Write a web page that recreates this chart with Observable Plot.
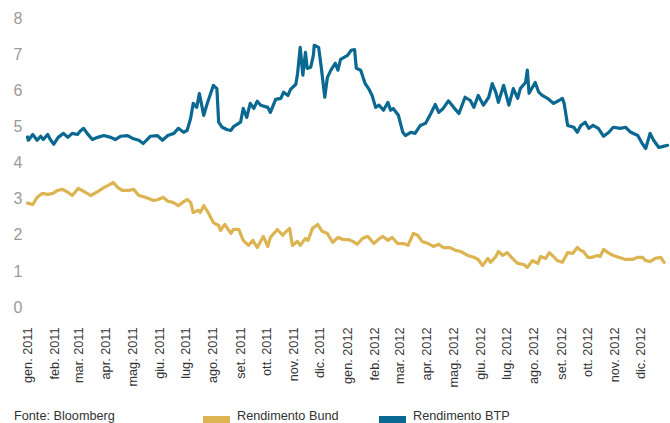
<!DOCTYPE html>
<html>
<head>
<meta charset="utf-8">
<script src="https://cdn.jsdelivr.net/npm/d3@7"></script>
<script src="https://cdn.jsdelivr.net/npm/@observablehq/plot@0.6"></script>
<style>
  html, body { margin: 0; padding: 0; background: #fff; }
  #wrap { position: relative; width: 670px; height: 423px; font-family: "Liberation Sans", Arial, sans-serif; }
  .leg { position: absolute; top: 408px; font-size: 12.7px; color: #333; white-space: nowrap; line-height: 16px; }
  .sw { position: absolute; top: 416px; width: 27px; height: 7px; }
</style>
</head>
<body>
<div id="wrap">
  <div id="chart"></div>
  <div class="leg" style="left:14px">Fonte: Bloomberg</div>
  <div class="sw" id="swBund" style="left:203px"></div>
  <div class="leg" style="left:237px">Rendimento Bund</div>
  <div class="sw" id="swBtp" style="left:379px"></div>
  <div class="leg" style="left:413px">Rendimento BTP</div>
</div>
<script>
const seriesNames = ["Rendimento Bund", "Rendimento BTP"];
const seriesColors = ["#dcb452", "#0b6891"];
const monthNames = ["gen.", "feb.", "mar.", "apr.", "mag.", "giu.", "lug.", "ago.", "set.", "ott.", "nov.", "dic."];
const yTicks = [0, 1, 2, 3, 4, 5, 6, 7, 8];

const btp = [
["2011-01-01",4.72],["2011-01-02",4.63],["2011-01-07",4.79],["2011-01-12",4.63],["2011-01-16",4.74],
["2011-01-19",4.65],["2011-01-24",4.79],["2011-01-27",4.65],["2011-01-31",4.52],["2011-02-05",4.71],
["2011-02-11",4.82],["2011-02-16",4.71],["2011-02-21",4.82],["2011-02-27",4.79],["2011-03-02",4.88],
["2011-03-06",4.96],["2011-03-10",4.82],["2011-03-16",4.65],["2011-03-22",4.71],["2011-03-29",4.76],
["2011-04-06",4.71],["2011-04-11",4.65],["2011-04-17",4.74],["2011-04-25",4.76],["2011-05-01",4.68],
["2011-05-08",4.63],["2011-05-13",4.54],["2011-05-21",4.74],["2011-05-29",4.76],["2011-06-04",4.63],
["2011-06-10",4.76],["2011-06-17",4.82],["2011-06-22",4.96],["2011-06-28",4.85],["2011-07-02",4.90],
["2011-07-06",5.23],["2011-07-09",5.65],["2011-07-13",5.54],["2011-07-16",5.92],["2011-07-21",5.32],
["2011-07-25",5.65],["2011-08-01",6.15],["2011-08-05",6.06],["2011-08-07",5.13],["2011-08-11",4.99],
["2011-08-17",4.92],["2011-08-21",4.90],["2011-08-24",5.01],["2011-09-01",5.13],["2011-09-04",5.51],
["2011-09-08",5.26],["2011-09-12",5.65],["2011-09-16",5.51],["2011-09-20",5.71],["2011-09-24",5.60],
["2011-10-02",5.54],["2011-10-05",5.40],["2011-10-11",5.76],["2011-10-17",5.79],["2011-10-20",5.96],
["2011-10-25",5.87],["2011-10-28",6.04],["2011-11-03",6.18],["2011-11-05",6.48],["2011-11-08",7.20],
["2011-11-11",6.43],["2011-11-14",7.06],["2011-11-16",6.62],["2011-11-20",6.65],["2011-11-23",6.98],
["2011-11-24",7.26],["2011-11-29",7.20],["2011-12-02",6.65],["2011-12-06",5.82],["2011-12-09",6.37],
["2011-12-13",6.57],["2011-12-18",6.76],["2011-12-21",6.57],["2011-12-24",6.87],["2012-01-01",6.98],
["2012-01-05",7.12],["2012-01-09",7.14],["2012-01-11",6.62],["2012-01-16",6.57],["2012-01-21",6.20],
["2012-01-25",6.06],["2012-01-29",5.87],["2012-02-02",5.54],["2012-02-06",5.60],["2012-02-11",5.46],
["2012-02-16",5.68],["2012-02-19",5.46],["2012-02-22",5.51],["2012-02-28",5.32],["2012-03-04",4.85],
["2012-03-07",4.76],["2012-03-13",4.85],["2012-03-18",4.82],["2012-03-24",5.04],["2012-03-30",5.10],
["2012-04-05",5.37],["2012-04-10",5.62],["2012-04-14",5.40],["2012-04-19",5.51],["2012-04-25",5.72],
["2012-05-01",5.54],["2012-05-07",5.37],["2012-05-14",5.82],["2012-05-20",5.73],["2012-05-24",5.54],
["2012-05-29",5.87],["2012-06-04",5.60],["2012-06-10",5.82],["2012-06-14",6.20],["2012-06-18",5.96],
["2012-06-21",5.68],["2012-06-27",6.15],["2012-07-03",5.60],["2012-07-08",6.06],["2012-07-13",5.79],
["2012-07-16",6.06],["2012-07-22",6.23],["2012-07-24",6.57],["2012-07-26",5.93],["2012-08-02",6.23],
["2012-08-06",5.96],["2012-08-10",5.87],["2012-08-16",5.79],["2012-08-23",5.65],["2012-08-29",5.73],
["2012-09-02",5.79],["2012-09-04",5.65],["2012-09-08",5.04],["2012-09-15",4.99],["2012-09-19",4.85],
["2012-09-23",5.04],["2012-09-28",5.13],["2012-10-02",4.96],["2012-10-07",5.04],["2012-10-13",4.96],
["2012-10-19",4.74],["2012-10-25",4.85],["2012-10-30",4.99],["2012-11-07",4.96],["2012-11-13",4.99],
["2012-11-19",4.85],["2012-11-27",4.76],["2012-12-02",4.54],["2012-12-06",4.40],["2012-12-11",4.82],
["2012-12-15",4.63],["2012-12-21",4.43],["2012-12-26",4.46],["2012-12-31",4.49]
];

const bund = [
["2011-01-01",2.89],["2011-01-07",2.85],["2011-01-12",3.05],["2011-01-18",3.16],["2011-01-24",3.13],
["2011-01-30",3.16],["2011-02-04",3.24],["2011-02-10",3.27],["2011-02-16",3.19],["2011-02-21",3.10],
["2011-02-28",3.30],["2011-03-08",3.19],["2011-03-14",3.10],["2011-03-22",3.21],["2011-03-29",3.32],
["2011-04-03",3.38],["2011-04-09",3.46],["2011-04-14",3.32],["2011-04-19",3.24],["2011-04-26",3.24],
["2011-05-02",3.27],["2011-05-08",3.10],["2011-05-13",3.07],["2011-05-19",3.02],["2011-05-25",2.96],
["2011-05-30",2.99],["2011-06-05",3.05],["2011-06-10",2.94],["2011-06-16",2.91],["2011-06-22",2.82],
["2011-06-27",2.91],["2011-07-02",2.99],["2011-07-06",2.91],["2011-07-09",2.63],["2011-07-15",2.69],
["2011-07-17",2.63],["2011-07-21",2.82],["2011-07-26",2.63],["2011-08-01",2.35],["2011-08-07",2.27],
["2011-08-09",2.13],["2011-08-14",2.30],["2011-08-17",2.19],["2011-08-21",2.05],["2011-08-24",2.16],
["2011-08-30",2.16],["2011-09-04",1.86],["2011-09-10",1.72],["2011-09-15",1.86],["2011-09-20",1.66],
["2011-09-27",1.97],["2011-10-02",1.69],["2011-10-05",1.94],["2011-10-13",2.16],["2011-10-19",2.00],
["2011-10-22",2.08],["2011-10-27",2.19],["2011-10-30",1.72],["2011-11-05",1.83],["2011-11-08",1.72],
["2011-11-14",1.91],["2011-11-17",1.86],["2011-11-22",2.19],["2011-11-28",2.30],["2011-12-03",2.11],
["2011-12-09",2.05],["2011-12-15",1.80],["2011-12-21",1.94],["2011-12-27",1.88],["2012-01-02",1.88],
["2012-01-07",1.83],["2012-01-12",1.75],["2012-01-18",1.91],["2012-01-24",1.97],["2012-01-31",1.77],
["2012-02-04",1.86],["2012-02-10",1.97],["2012-02-16",1.86],["2012-02-21",1.94],["2012-02-27",1.77],
["2012-03-05",1.77],["2012-03-10",1.72],["2012-03-16",2.05],["2012-03-21",2.00],["2012-03-26",1.83],
["2012-04-02",1.77],["2012-04-08",1.69],["2012-04-14",1.75],["2012-04-19",1.66],["2012-04-27",1.66],
["2012-05-03",1.58],["2012-05-09",1.55],["2012-05-17",1.44],["2012-05-24",1.39],["2012-05-29",1.33],
["2012-06-03",1.16],["2012-06-09",1.36],["2012-06-12",1.25],["2012-06-18",1.41],["2012-06-21",1.55],
["2012-06-26",1.44],["2012-07-01",1.52],["2012-07-07",1.36],["2012-07-13",1.22],["2012-07-20",1.19],
["2012-07-24",1.11],["2012-07-30",1.30],["2012-08-05",1.22],["2012-08-08",1.41],["2012-08-14",1.36],
["2012-08-18",1.52],["2012-08-23",1.41],["2012-08-27",1.30],["2012-09-02",1.25],["2012-09-08",1.52],
["2012-09-14",1.50],["2012-09-19",1.66],["2012-09-23",1.58],["2012-09-26",1.55],["2012-10-01",1.39],
["2012-10-06",1.39],["2012-10-12",1.44],["2012-10-15",1.41],["2012-10-19",1.61],["2012-10-24",1.52],
["2012-10-30",1.44],["2012-11-05",1.39],["2012-11-13",1.33],["2012-11-21",1.33],["2012-11-27",1.39],
["2012-12-02",1.39],["2012-12-06",1.30],["2012-12-11",1.27],["2012-12-17",1.36],["2012-12-23",1.39],
["2012-12-27",1.25]
];

const toRows = (arr) => arr.map(([d, v]) => ({date: new Date(d + "T00:00:00Z"), value: v}));
const bundRows = toRows(bund);
const btpRows = toRows(btp);
const monthTicks = d3.utcMonth.range(new Date("2011-01-01T00:00:00Z"), new Date("2013-01-01T00:00:00Z"));

document.getElementById("swBund").style.background = seriesColors[0];
document.getElementById("swBtp").style.background = seriesColors[1];

const chart = Plot.plot({
  width: 670,
  height: 400,
  marginLeft: 27,
  marginRight: 2,
  marginTop: 18,
  marginBottom: 93,
  style: {fontFamily: "'Liberation Sans', Arial, sans-serif", fontSize: "13px", background: "white", overflow: "visible"},
  x: {type: "utc", domain: [new Date("2011-01-01T00:00:00Z"), new Date("2013-01-01T00:00:00Z")]},
  y: {domain: [0, 8]},
  marks: [
    Plot.axisY({ticks: yTicks, tickSize: 0, tickPadding: 5, label: null, color: "#9a9a9a", fontSize: 16, tickFormat: d => String(d)}),
    Plot.axisX({ticks: monthTicks, tickSize: 0, tickPadding: 20, tickRotate: -90, label: null, color: "#333", fontSize: 12.7,
      tickFormat: d => monthNames[d.getUTCMonth()] + " " + d.getUTCFullYear()}),
    Plot.lineY(bundRows, {x: "date", y: "value", stroke: seriesColors[0], strokeWidth: 3.2, strokeLinejoin: "round"}),
    Plot.lineY(btpRows, {x: "date", y: "value", stroke: seriesColors[1], strokeWidth: 3.2, strokeLinejoin: "round"})
  ]
});
document.getElementById("chart").appendChild(chart);
</script>
</body>
</html>
